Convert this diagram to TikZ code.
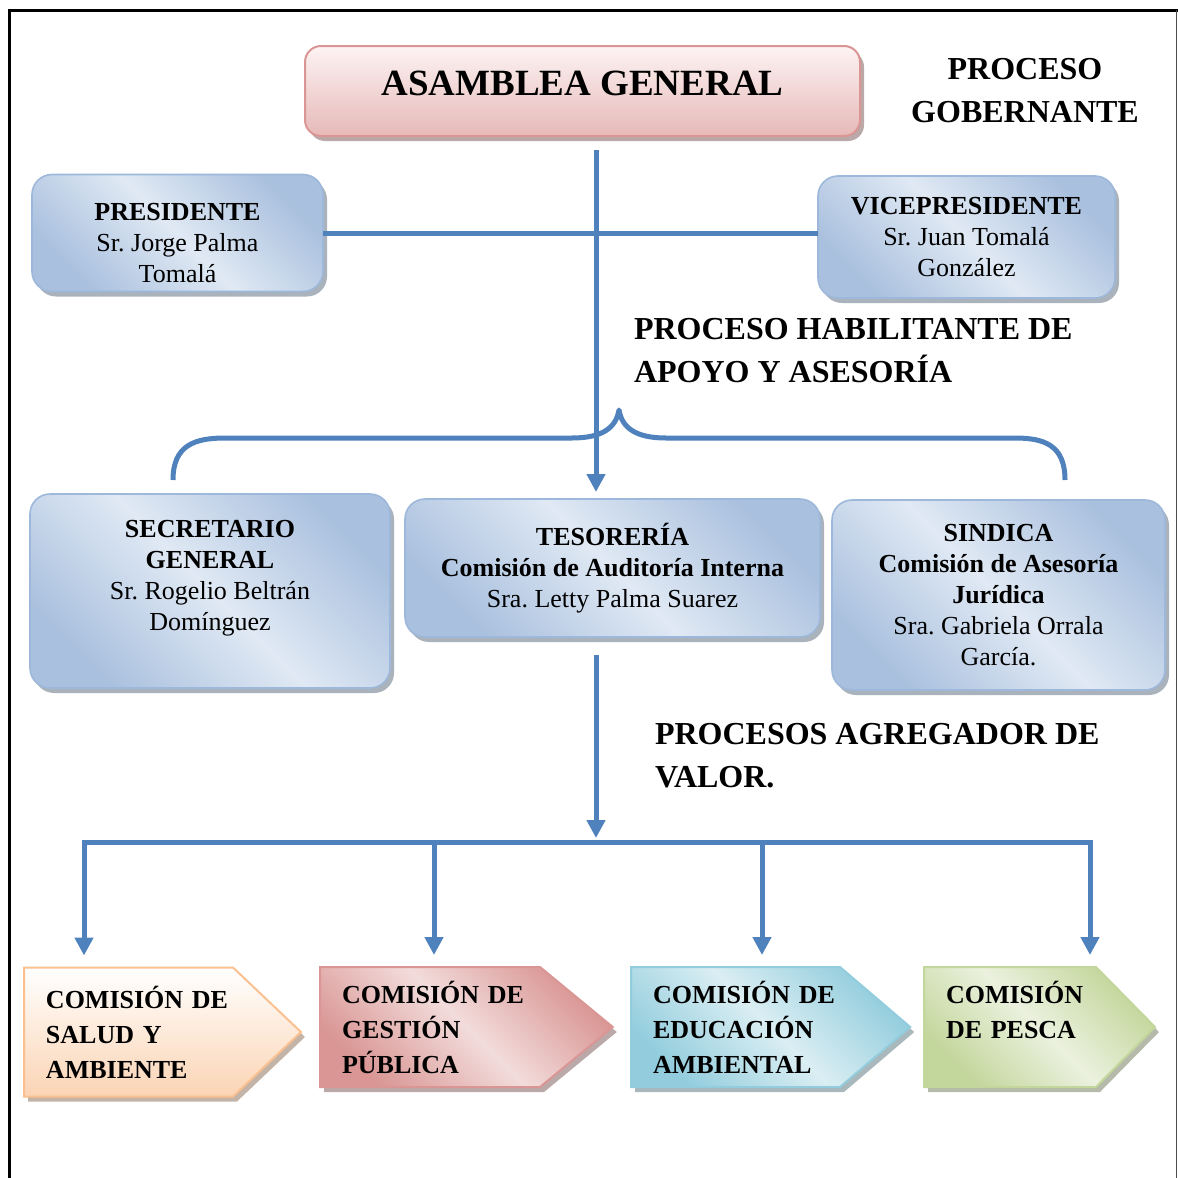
\documentclass[tikz,border=0pt]{standalone}
\usepackage{fontspec}
\setmainfont{Liberation Serif}
\frenchspacing
\usetikzlibrary{shapes.symbols,shadows,arrows.meta}

\definecolor{azullinea}{HTML}{4F81BD}
\definecolor{azulosc}{HTML}{A9C0DE}
\definecolor{azulcl}{HTML}{E0E9F4}
\definecolor{azulborde}{HTML}{9DB8DA}
\definecolor{rosacl}{HTML}{FDF3F3}
\definecolor{rosaosc}{HTML}{E6B9B8}
\definecolor{rosaborde}{HTML}{D99694}
\definecolor{naranjacl}{HTML}{FBD4B4}
\definecolor{naranjaborde}{HTML}{FAC090}
\definecolor{rojocl}{HTML}{F2DCDB}
\definecolor{rojoosc}{HTML}{D99694}
\definecolor{celestecl}{HTML}{DAEEF3}
\definecolor{celesteosc}{HTML}{93CDDD}
\definecolor{verdecl}{HTML}{EBF1DE}
\definecolor{verdeosc}{HTML}{C3D69B}

\begin{document}
\begin{tikzpicture}[
    x=0.5pt, y=-0.5pt,
    every node/.style={align=center, inner sep=0pt, outer sep=0pt,
      font=\fontsize{13}{15.5}\selectfont},
    sombra/.style={drop shadow={shadow xshift=2pt, shadow yshift=-2.5pt,
      fill=#1!55!black, opacity=.5}},
    caja/.style={draw=azulborde, line width=.8pt, rounded corners=10pt,
      top color=azulosc, bottom color=azulosc, middle color=azulcl,
      shading angle=-45, sombra=azulborde},
    titulo/.style={draw=rosaborde, line width=1pt, rounded corners=8pt,
      top color=rosacl, bottom color=rosaosc, sombra=rosaborde,
      font=\fontsize{18.5}{22}\selectfont\bfseries},
    proceso/.style={font=\fontsize{16}{21.5}\selectfont\bfseries},
    comision/.style 2 args={shape=signal, signal to=east, anchor=west,
      draw=#2, line width=1pt, top color=#2, bottom color=#2, middle color=#1,
      shading angle=-45, sombra=#2, align=left, inner xsep=11pt,
      font=\fontsize{13}{17.5}\selectfont\bfseries},
    linea/.style={draw=azullinea, line width=2.5pt},
    flecha/.style={linea, -{Triangle[width=9pt,length=9pt]}}
  ]

  \useasboundingbox (0,0) rectangle (1178,1178);
  \draw[line width=1.5pt] (9,1178) -- (9,10) -- (1178,10);
  \draw[line width=.5pt, black!70] (1176,10) -- (1176,1178);

  \node[titulo, minimum width=277.5pt, minimum height=45pt] (asam) at (582.5,91) {ASAMBLEA GENERAL\\[-14pt]\mbox{}};
  \node[proceso] (gob) at (1025,91) {PROCESO\\GOBERNANTE};

  \node[caja, minimum width=145.5pt, minimum height=58.5pt] (pres) at (177.5,233)
    {\rule{0pt}{18.5pt}\textbf{PRESIDENTE}\\Sr. Jorge Palma\\Tomalá};
  \node[caja, minimum width=148.5pt, minimum height=61pt] (vice) at (966.5,237)
    {\textbf{VICEPRESIDENTE}\\Sr. Juan Tomalá\\González};

  \node[proceso, anchor=west, align=left] (hab) at (634,351) {PROCESO HABILITANTE DE\\APOYO Y ASESORÍA};

  \node[caja, minimum width=180pt, minimum height=97pt] (sec) at (210,591)
    {\textbf{SECRETARIO}\\\textbf{GENERAL}\\Sr. Rogelio Beltrán\\Domínguez\\\mbox{}};
  \node[caja, minimum width=207.5pt, minimum height=69pt] (tes) at (612.5,568)
    {\textbf{TESORERÍA}\\\textbf{Comisión de Auditoría Interna}\\Sra. Letty Palma Suarez};
  \node[caja, minimum width=166.5pt, minimum height=95pt] (sin) at (998.5,595)
    {\textbf{SINDICA}\\\textbf{Comisión de Asesoría}\\\textbf{Jurídica}\\Sra. Gabriela Orrala\\García.};

  \node[proceso, anchor=west, align=left] (agr) at (655,756) {PROCESOS AGREGADOR DE\\VALOR.};

  \node[comision={white}{naranjaborde}, top color=white, bottom color=naranjacl,
    text width=82.5pt, minimum height=64.5pt, signal pointer angle=87] (c1) at (24,1032)
    {COMISIÓN~DE\\SALUD~Y\\AMBIENTE};
  \node[comision={rojocl}{rojoosc}, text width=88pt, minimum height=60pt,
    signal pointer angle=79] (c2) at (320,1027) {COMISIÓN~DE\\GESTIÓN\\PÚBLICA};
  \node[comision={celestecl}{celesteosc}, text width=82.5pt, minimum height=60pt,
    signal pointer angle=81] (c3) at (631,1027) {COMISIÓN~DE\\EDUCACIÓN\\AMBIENTAL};
  \node[comision={verdecl}{verdeosc}, text width=64pt, minimum height=60pt,
    signal pointer angle=91] (c4) at (924,1027) {COMISIÓN\\DE~PESCA\\\mbox{}};

  \coordinate (arriba) at (596,150);
  \coordinate (llave) at (619,410);
  \coordinate (llaveizq) at (173,480);
  \coordinate (llaveder) at (1065,480);
  \coordinate (abajo) at (596,655);
  \coordinate (barra) at (596,842);
  \coordinate (b1) at (84,842);
  \coordinate (b2) at (434,842);
  \coordinate (b3) at (762,842);
  \coordinate (b4) at (1090,842);

  \draw[linea] (pres.east) -- (pres.east -| vice.west);
  \draw[flecha, shorten >=3.5pt] (arriba) -- (arriba |- tes.north);
  \draw[linea, line join=round] (llaveizq) .. controls (173,445) and (195,438) .. (225,438)
    -- (572,438) .. controls (602,438) and (616,428) .. (llave)
    .. controls (622,428) and (636,438) .. (666,438)
    -- (1015,438) .. controls (1044,438) and (1065,445) .. (llaveder);

  \draw[flecha, shorten >=2pt] (abajo) -- (barra);
  \draw[linea, line cap=rect] (b1) -- (b4);
  \foreach \b/\c in {b1/c1, b2/c2, b3/c3, b4/c4}
    \draw[flecha, shorten >=6pt] (\b) -- (\b |- \c.north);

\end{tikzpicture}
\end{document}
